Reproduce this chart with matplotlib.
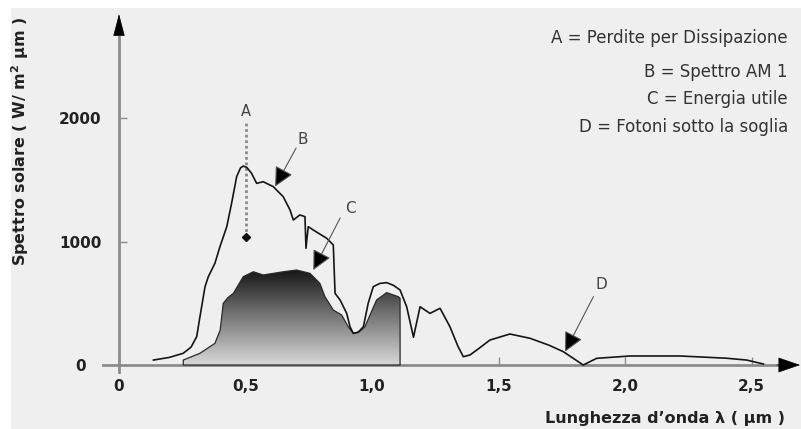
import numpy as np
import matplotlib
matplotlib.use('Agg')
import matplotlib.pyplot as plt
from matplotlib.patches import Polygon, Rectangle
from matplotlib.colors import LinearSegmentedColormap

plt.rcParams['font.family'] = ['DejaVu Sans']

# Spettro AM 1 (curva B)
b_x = [0.136, 0.200, 0.254, 0.285, 0.307, 0.320, 0.340, 0.353, 0.379, 0.399,
       0.426, 0.445, 0.465, 0.480, 0.491, 0.505, 0.524, 0.544, 0.570, 0.610,
       0.649, 0.676, 0.689, 0.715, 0.735, 0.739, 0.748, 0.768, 0.821, 0.847,
       0.854, 0.874, 0.900, 0.913, 0.926, 0.945, 0.966, 0.985, 1.005, 1.030,
       1.058, 1.085, 1.111, 1.137, 1.164, 1.190, 1.229, 1.269, 1.308, 1.340,
       1.361, 1.387, 1.420, 1.466, 1.545, 1.625, 1.700, 1.756, 1.835, 1.888,
       2.020, 2.217, 2.400, 2.481, 2.547]
b_y = [40, 62, 95, 145, 229, 391, 634, 715, 823, 958,
       1120, 1309, 1525, 1595, 1611, 1600, 1552, 1471, 1484, 1444,
       1363, 1255, 1174, 1215, 1201, 945, 1120, 1093, 1026, 972,
       580, 526, 418, 310, 256, 265, 310, 500, 634, 660,
       667, 645, 607, 472, 225, 472, 418, 459, 310, 150,
       67, 81, 130, 202, 251, 216, 160, 108, 0, 54,
       73, 73, 55, 40, 8]

# Energia utile (curva C, area sfumata)
c_x = [0.254, 0.254, 0.320, 0.379, 0.400, 0.412, 0.430, 0.452, 0.491, 0.531,
       0.570, 0.610, 0.649, 0.702, 0.755, 0.794, 0.814, 0.847, 0.880, 0.906,
       0.926, 0.950, 0.972, 1.018, 1.058, 1.104, 1.111, 1.111]
c_y = [0, 40, 95, 175, 283, 499, 545, 580, 715, 755,
       729, 742, 755, 769, 742, 661, 553, 445, 405, 310,
       256, 270, 310, 526, 586, 553, 540, 0]

x_ticks = [0, 0.5, 1.0, 1.5, 2.0, 2.5]
x_labels = ['0', '0,5', '1,0', '1,5', '2,0', '2,5']
y_ticks = [0, 1000, 2000]
y_labels = ['0', '1000', '2000']

legend_lines = ['A = Perdite per Dissipazione', 'B = Spettro AM 1',
                'C = Energia utile', 'D = Fotoni sotto la soglia']

# A: perdite per dissipazione (freccia tratteggiata)
a_x = 0.5
a_lo, a_hi = 1040, 1960
# posizioni etichette e punte delle frecce B, C, D
labels = ['B', 'C', 'D']
lab_xy = [(0.727, 1822), (0.913, 1271), (1.908, 648)]
base_xy = [(0.700, 1757), (0.874, 1190), (1.875, 553)]
tip_xy = [(0.617, 1445), (0.768, 769), (1.763, 108)]

fig = plt.figure(figsize=(8.01, 4.29), dpi=100, facecolor='white')
fig.patches.append(Rectangle((11 / 801, 0), 1, 1 - 8 / 429, transform=fig.transFigure,
                             facecolor='#efefef', edgecolor='none', zorder=-10))
ax = fig.add_axes([0, 0, 1, 1])
ax.set_facecolor('none')

x0, sx = 119, 253.0      # pixel di x=0, pixel per micron
y0, sy = 365, 0.1235     # pixel di y=0, pixel per W/m2um
xlim = (-x0 / sx, (801 - x0) / sx)
ylim = (-(429 - y0) / sy, y0 / sy)

# area C con sfumatura verticale
cmap = LinearSegmentedColormap.from_list('grad', ['#d8d8d8', '#7a7a7a', '#161616'])
grad = np.linspace(0, 1, 256).reshape(-1, 1)
im = ax.imshow(grad, extent=[min(c_x), max(c_x), 0, max(c_y)], origin='lower',
               aspect='auto', cmap=cmap, zorder=2, interpolation='bilinear')
poly = Polygon(np.column_stack([c_x, c_y]), closed=True, facecolor='none',
               edgecolor='#2a2a2a', lw=0.9, zorder=3)
ax.add_patch(poly)
im.set_clip_path(poly)

# curva B
ax.plot(b_x, b_y, color='#151515', lw=1.2, zorder=4)

# A
ax.plot([a_x, a_x], [a_lo, a_hi], color='#8a8a8a', lw=2, ls=(0, (1, 1)), zorder=1)
ax.plot(a_x, a_lo, 'D', color='#111111', ms=4, zorder=5)
ax.text(a_x, a_hi + 30, 'A', ha='center', va='bottom', fontsize=10.5, color='#444444')

for lab, lxy, bxy, txy in zip(labels, lab_xy, base_xy, tip_xy):
    ax.text(lxy[0], lxy[1], lab, ha='center', va='center', fontsize=11, color='#444444')
    ax.annotate('', xy=txy, xytext=bxy, zorder=6,
                arrowprops=dict(arrowstyle='-|>,head_length=0.6,head_width=0.3',
                                mutation_scale=20, fc='black', ec='#555555', lw=0.8,
                                shrinkA=0, shrinkB=0))

# assi
ax.set_xlim(*xlim)
ax.set_ylim(*ylim)
for s in ['top', 'right']:
    ax.spines[s].set_visible(False)
ax.spines['left'].set_position(('data', 0))
ax.spines['bottom'].set_position(('data', 0))
ax.spines['left'].set_bounds(-57, 2750)
ax.spines['bottom'].set_bounds(-0.063, 2.64)
for s in ['left', 'bottom']:
    ax.spines[s].set_color('#8c8c8c')
    ax.spines[s].set_linewidth(2)
    ax.spines[s].set_zorder(1)

ax.annotate('', xy=(0, 2842), xytext=(0, 2700),
            arrowprops=dict(arrowstyle='-|>,head_length=1.45,head_width=0.38',
                            fc='black', ec='black', lw=0.5, shrinkA=0, shrinkB=0))
ax.annotate('', xy=(2.692, 0), xytext=(2.60, 0),
            arrowprops=dict(arrowstyle='-|>,head_length=1.45,head_width=0.5',
                            fc='black', ec='black', lw=0.5, shrinkA=0, shrinkB=0))

ax.set_xticks(x_ticks)
ax.set_xticklabels(x_labels, fontsize=11, fontweight='bold', color='#222222')
ax.set_yticks(y_ticks)
ax.set_yticklabels(y_labels, fontsize=11, fontweight='bold', color='#222222')
ax.tick_params(axis='both', direction='in', length=6, width=1, color='#8c8c8c')
ax.tick_params(axis='x', pad=10)
ax.tick_params(axis='y', pad=28)
for t in ax.get_yticklabels():
    t.set_ha('center')

fig.text(20 / 801, 1 - 141 / 429, 'Spettro solare ( W/ m$^\\mathregular{2}$ μm )',
         rotation=90, ha='center', va='center', fontsize=11.5, fontweight='bold',
         color='#222222')
fig.text(665 / 801, 1 - 419 / 429, 'Lunghezza d’onda λ ( μm )', ha='center',
         va='center', fontsize=11.5, fontweight='bold', color='#222222')

for txt, py in zip(legend_lines, [38, 72, 99, 127]):
    fig.text(788 / 801, 1 - py / 429, txt, ha='right', va='center', fontsize=12,
             color='#333333')

fig.savefig('out.png', dpi=100, facecolor=fig.get_facecolor())
